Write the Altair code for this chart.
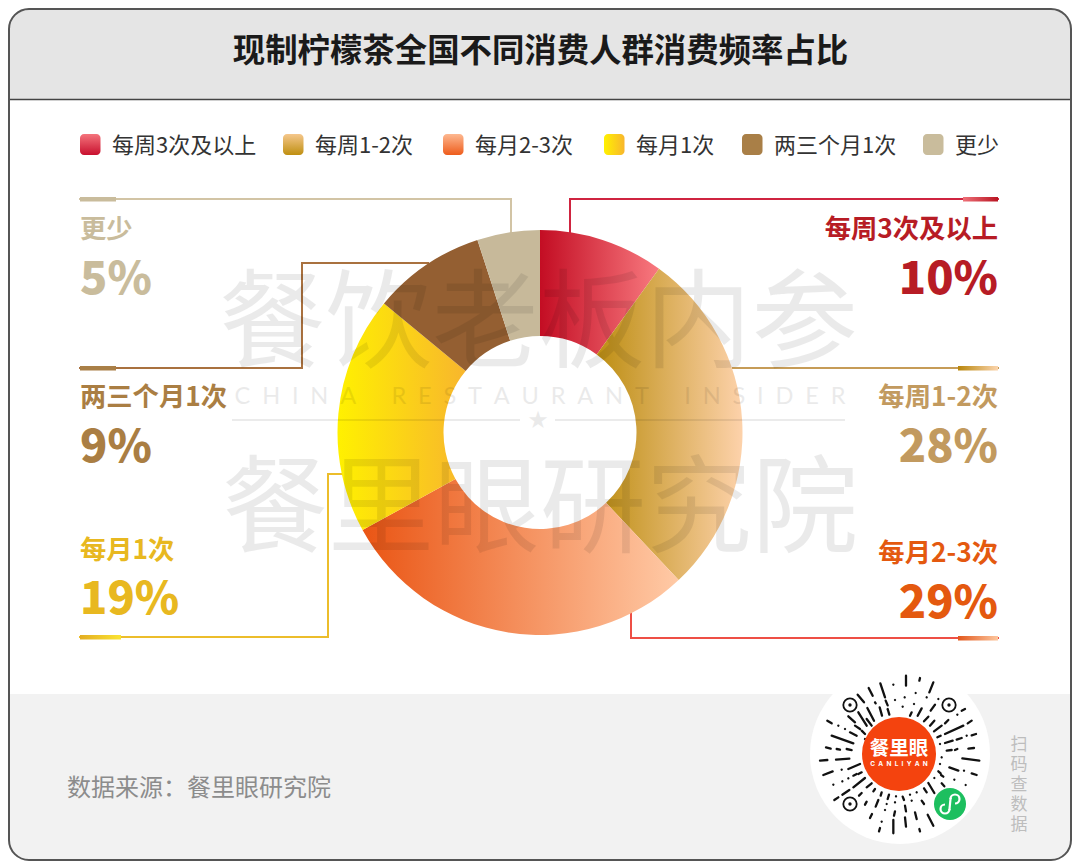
import math
import altair as alt
import pandas as pd

# ---- chart values ----
TITLE = "现制柠檬茶全国不同消费人群消费频率占比"
CATEGORIES = ["每周3次及以上", "每周1-2次", "每月2-3次", "每月1次", "两三个月1次", "更少"]
VALUES = [10, 28, 29, 19, 9, 5]
SOURCE = "数据来源：餐里眼研究院"
SCAN = ["扫", "码", "查", "数", "据"]

# ---- styles ----
W, H = 1064, 854
OX, OY = 8, 8            # page margin: reference coordinates are shifted by this
FONT = "Noto Sans CJK SC"
# frame edges, kept inside the part of the page the chart can reach
FL, FT, FR, FB = 9, 9, 1071, 860


def X(v):
    return v - OX


def Y(v):
    return v - OY


def grad(c0, c1, vertical=False):
    return alt.LinearGradient(
        gradient="linear",
        x1=0, y1=0,
        x2=0 if vertical else 1,
        y2=1 if vertical else 0,
        stops=[alt.GradientStop(color=c0, offset=0), alt.GradientStop(color=c1, offset=1)],
    )


ONE = pd.DataFrame({"a": [0]})
layers = []


def rect(x1, y1, x2, y2, **kw):
    layers.append(
        alt.Chart(ONE).mark_rect(**kw).encode(
            x=alt.value(X(x1)), x2=alt.value(X(x2)), y=alt.value(Y(y1)), y2=alt.value(Y(y2))
        )
    )


def line(points, color, width=2, opacity=1):
    for (a, b), (c, d) in zip(points[:-1], points[1:]):
        layers.append(
            alt.Chart(ONE).mark_rule(color=color, strokeWidth=width, strokeCap="square", opacity=opacity).encode(
                x=alt.value(X(a)), x2=alt.value(X(c)), y=alt.value(Y(b)), y2=alt.value(Y(d))
            )
        )


def text(t, x, y, size, color, weight="normal", align="left", font=FONT, opacity=1):
    layers.append(
        alt.Chart(pd.DataFrame({"t": [t]})).mark_text(
            font=font, fontSize=size, color=color, fontWeight=weight, align=align,
            baseline="middle", opacity=opacity,
        ).encode(x=alt.value(X(x)), y=alt.value(Y(y)), text="t:N")
    )


def disc(cx, cy, r, inner=0, color="#ffffff", t0=0.0, t1=360.0):
    layers.append(
        alt.Chart(ONE).mark_arc(
            radius=r, radius2=inner, theta=math.radians(t0), theta2=math.radians(t1), color=color
        ).encode(x=alt.value(X(cx)), y=alt.value(Y(cy)))
    )


# ---- frame ----
rect(FL, FT, FR, 99, fill="#e5e5e5", cornerRadiusTopLeft=20, cornerRadiusTopRight=20)
rect(FL, 694, FR, FB, fill="#f2f2f2", cornerRadiusBottomLeft=20, cornerRadiusBottomRight=20)
line([(FL, 99.5), (FR, 99.5)], "#444444", 1.5)
rect(FL, FT, FR, FB, fill="transparent", stroke="#555555", strokeWidth=2, cornerRadius=20)

text(TITLE, 540.5, 52, 32.4, "#1a1a1a", weight="bold", align="center")

# ---- legend ----
LEG_FILL = [
    grad("#f4747c", "#c8102e", True),
    grad("#f5c78c", "#bf8f10", True),
    grad("#fdb890", "#ee5c1c", True),
    grad("#fff100", "#f8b62d"),
    "#a97f47",
    "#c9bc9c",
]
LEG_X = [80, 283, 443, 604, 742, 923]
for name, fill, lx in zip(CATEGORIES, LEG_FILL, LEG_X):
    rect(lx, 134, lx + 20.5, 155, fill=fill, cornerRadius=4)
    text(name, lx + 32, 146, 22, "#333333")

# ---- leader lines ----
line([(80, 199), (511, 199), (511, 232)], "#d2c4a5")
rect(80, 197, 116, 201.5, fill="#c9bc9c")
line([(80, 368), (302, 368), (302, 263), (428, 263)], "#a9713f")
rect(80, 366, 116, 370.5, fill="#a97f47")
line([(80, 637), (328, 637), (328, 474), (343, 474)], "#ecbd2b")
rect(80, 635, 121, 639.5, fill=grad("#e3ad22", "#fbe433"))
line([(998, 199), (570, 199), (570, 232)], "#cf2440")
rect(963, 197, 998, 201.5, fill=grad("#ee7078", "#b91522"))
line([(998, 368), (733, 368)], "#c69c57")
rect(958, 366, 998, 370.5, fill=grad("#b8860b", "#fcd5ae"))
line([(998, 638), (631, 638), (631, 612)], "#ee4f45")
rect(958, 636, 998, 640.5, fill=grad("#e2571c", "#fdc79e"))

# ---- donut ----
CX, CY, R_OUT, R_IN = 540, 432.5, 202.5, 96.5
SLICE_FILL = [
    grad("#c30d23", "#f8797f"),
    grad("#bd8e12", "#fdd2ab"),
    grad("#ea5514", "#ffcaa6"),
    grad("#fff100", "#f8b62d"),
    "#945f32",
    "#c7b99a",
]
start = 0
for name, value, fill in zip(CATEGORIES, VALUES, SLICE_FILL):
    row = pd.DataFrame({"cat": [name], "start": [start], "end": [start + value]})
    layers.append(
        alt.Chart(row).mark_arc(radius=R_OUT, radius2=R_IN, fill=fill).encode(
            theta=alt.Theta("start:Q", scale=alt.Scale(domain=[0, 100], range=[0, 2 * math.pi])),
            theta2="end:Q",
            x=alt.value(X(CX)),
            y=alt.value(Y(CY)),
        )
    )
    start += value

# ---- labels ----
LAB_COLOR = ["#b71c25", "#c29a5f", "#e4590f", "#e8b820", "#aa7e43", "#c9bc9c"]
LAB_ALIGN = ["right", "right", "right", "left", "left", "left"]
LAB_X = [998, 998, 998, 80, 80, 80]
LAB_Y = [229.5, 397.5, 553.5, 550.5, 397.5, 229.5]
PCT_Y = [280, 448, 604, 600, 448, 280]
for name, value, col, al, lx, ly, py in zip(CATEGORIES, VALUES, LAB_COLOR, LAB_ALIGN, LAB_X, LAB_Y, PCT_Y):
    text(name, lx, ly, 26.3, col, weight="bold", align=al)
    text(f"{value}%", lx, py, 45, col, weight=900, align=al)

# ---- source + scan note ----
text(SOURCE, 67, 788.5, 24, "#8c8c8c")
for i, ch in enumerate(SCAN):
    text(ch, 1019, 745 + i * 20, 17, "#bdbdbd", align="center")

# ---- mini-program code ----
disc(900, 754, 90)
DASHES = {
    (810, 664): [
        (211, 58, 225, 100), (176, 72, 188, 95), (250, 62, 250, 62), (143, 92, 162, 115),
        (227, 110, 233, 124), (255, 108, 255, 108), (195, 115, 197, 118), (172, 132, 192, 170),
        (209, 130, 216, 155), (233, 135, 238, 152), (115, 157, 135, 175), (145, 145, 170, 185),
        (170, 165, 185, 185), (52, 170, 65, 178), (85, 185, 85, 185), (105, 195, 105, 195),
        (135, 185, 150, 195), (120, 205, 140, 215), (155, 200, 165, 210), (65, 215, 130, 238),
        (165, 225, 178, 232), (48, 250, 62, 254), (80, 255, 90, 257), (110, 255, 125, 258),
    ],
    (900, 664): [
        (18, 35, 18, 65), (60, 42, 58, 50), (100, 55, 88, 85), (14, 100, 14, 100),
        (47, 87, 47, 87), (80, 100, 80, 100), (115, 105, 115, 105), (42, 120, 42, 120),
        (8, 128, 8, 128), (105, 122, 92, 140), (35, 145, 30, 155), (65, 133, 53, 155),
        (85, 158, 72, 172), (103, 170, 90, 185), (145, 168, 135, 178), (195, 135, 185, 140),
        (172, 152, 172, 152), (215, 170, 203, 178), (190, 185, 135, 210), (125, 185, 102, 202),
        (122, 215, 112, 220), (228, 210, 215, 214), (200, 215, 200, 215), (185, 222, 170, 227),
        (158, 230, 135, 237), (120, 240, 120, 240), (222, 252, 205, 254), (172, 255, 165, 258),
        (155, 258, 140, 260),
    ],
    (810, 754): [
        (30, 20, 52, 18), (78, 17, 118, 14), (115, 45, 150, 30), (155, 55, 145, 60),
        (40, 63, 68, 52), (95, 47, 95, 47), (130, 65, 140, 60), (115, 73, 115, 73),
        (97, 82, 97, 82), (165, 72, 130, 100), (70, 92, 70, 92), (185, 88, 170, 100),
        (118, 108, 97, 122), (155, 117, 147, 125), (195, 105, 190, 112), (215, 115, 212, 125),
        (85, 130, 73, 138), (237, 122, 233, 135), (258, 127, 258, 127), (205, 138, 197, 158),
        (170, 143, 165, 152), (230, 150, 230, 150), (255, 145, 255, 145), (225, 168, 225, 168),
        (255, 172, 252, 185), (186, 180, 180, 192), (215, 203, 215, 203), (210, 222, 207, 232),
        (250, 198, 250, 238),
    ],
    (900, 754): [
        (187, 13, 238, 20), (125, 10, 125, 10), (120, 30, 120, 30), (148, 40, 175, 50),
        (192, 50, 192, 50), (215, 58, 230, 63), (115, 52, 122, 58), (123, 63, 130, 68),
        (163, 77, 163, 77), (103, 72, 103, 72), (197, 93, 197, 93), (125, 88, 133, 97),
        (70, 78, 62, 85), (85, 87, 103, 117), (72, 103, 80, 115), (50, 115, 50, 115),
        (30, 122, 30, 122), (8, 128, 12, 138), (35, 140, 35, 140), (65, 140, 72, 150),
        (15, 155, 18, 172), (45, 175, 50, 195), (83, 182, 100, 215), (15, 190, 18, 218),
        (58, 225, 60, 232),
    ],
}
rows = []
for (ox, oy), items in DASHES.items():
    for a, b, c, d in items:
        rows.append({
            "x": X(ox + a / 3), "y": Y(oy + b / 3),
            "x2": X(ox + c / 3 + 0.01), "y2": Y(oy + d / 3 + 0.01),
        })
PX = alt.Scale(domain=[0, W], range=[0, W])
PY = alt.Scale(domain=[0, H], range=[0, H])
layers.append(
    alt.Chart(pd.DataFrame(rows)).mark_rule(color="#111111", strokeWidth=2.3, strokeCap="round").encode(
        x=alt.X("x:Q", scale=PX, axis=None),
        x2="x2:Q",
        y=alt.Y("y:Q", scale=PY, axis=None),
        y2="y2:Q",
    )
)
for cx, cy in [(850, 705), (949, 705), (850, 804)]:
    disc(cx, cy, 7.6, 5.8, "#111111")
    disc(cx, cy, 1.7, 0, "#111111")
disc(899, 754, 37, 0, "#f4430e")
text("餐里眼", 899, 749, 19.5, "#ffffff", weight="bold", align="center")
text("\u2002".join("CANLIYAN"), 899, 764, 6.5, "#ffffff", weight="bold", align="center", font="Inter")
disc(950, 804, 16, 0, "#1dbf5f")
disc(945, 809, 5.6, 3.4, "#ffffff", 90, 360)
disc(955, 799, 5.6, 3.4, "#ffffff", 270, 540)
line([(950.5, 799), (949.5, 809)], "#ffffff", 2.2)

# ---- watermark (drawn over everything in the plot) ----
WM = "#000000"
text("餐饮老板内参", 538.5, 327, 106.5, WM, align="center", opacity=0.08)
text("餐里眼研究院", 540, 512, 106, WM, align="center", opacity=0.08)
text("\u2002".join("CHINA\u2002RESTAURANT\u2002INSIDER"), 540, 397, 23.6, WM, align="center", font="Lato", opacity=0.08)
line([(233, 420), (519, 420)], WM, 2, opacity=0.08)
line([(556, 420), (844, 420)], WM, 2, opacity=0.08)
text("★", 538, 421, 24, WM, align="center", font="DejaVu Sans", opacity=0.08)

chart = alt.layer(*layers).properties(
    width=W, height=H, autosize=alt.AutoSizeParams(type="none"), padding=0,
).configure_view(stroke=None)

chart.save("out.html", embed_options={"renderer": "svg", "actions": False})
